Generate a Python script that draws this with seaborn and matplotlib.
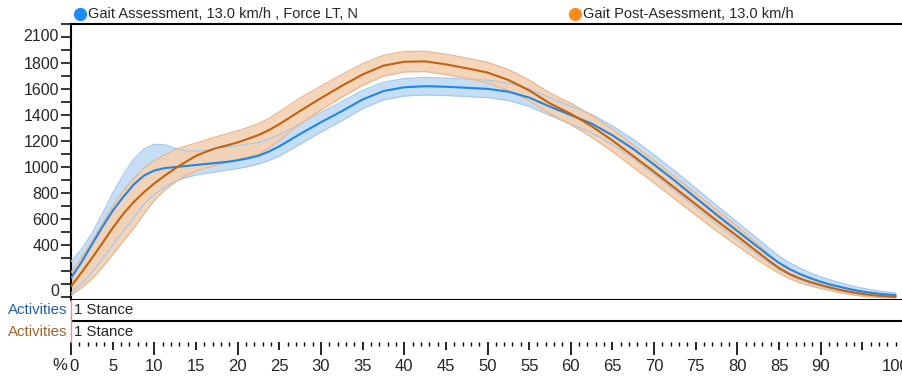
import matplotlib
matplotlib.use("Agg")
import matplotlib.pyplot as plt
import pandas as pd
import seaborn as sns
from matplotlib.lines import Line2D
from matplotlib.ticker import FixedLocator, MultipleLocator
from matplotlib.transforms import ScaledTranslation

# % of stance phase (denser where the curves bend)
stance_pct = [0, 1.25, 2.5, 3.75, 5, 6.25, 7.5, 8.75, 10, 11.25, 12.5, 13.75, 15, 16.25, 17.5,
              18.75, 20, 21.25, 22.5, 23.75, 25,
              27.5, 30, 32.5, 35, 37.5, 40, 42.5, 45, 47.5, 50, 52.5, 55, 57.5, 60, 62.5, 65,
              67.5, 70, 72.5, 75, 77.5,
              80, 81.25, 82.5, 83.75, 85, 86.25, 87.5, 88.75, 90, 91.25, 92.5, 93.75, 95,
              96.25, 97.5, 99]

# Gait Assessment: mean force (N) and band limits
assess_mean = [150, 270, 405, 540, 665, 770, 865, 935, 975, 993, 1001, 1009, 1017, 1025, 1033,
               1041, 1053, 1068, 1088, 1120, 1160,
               1255, 1345, 1430, 1520, 1585, 1614, 1622, 1618, 1610, 1602, 1580, 1535, 1465,
               1400, 1335, 1245, 1140, 1020, 895, 765, 635,
               510, 447, 385, 323, 265, 218, 180, 148, 120, 97, 78, 60, 45, 34, 25, 18]
assess_high = [275, 370, 490, 640, 800, 940, 1060, 1140, 1176, 1172, 1145, 1125, 1122, 1132, 1145,
               1155, 1165, 1177, 1190, 1218, 1250,
               1333, 1420, 1503, 1590, 1653, 1681, 1689, 1685, 1677, 1669, 1647, 1603, 1533,
               1470, 1405, 1317, 1214, 1095, 970, 839, 707,
               578, 512, 447, 380, 317, 266, 225, 189, 158, 132, 110, 89, 71, 57, 45, 34]
assess_low = [33, 105, 190, 290, 400, 505, 610, 715, 790, 850, 890, 920, 940, 953, 965,
              978, 990, 1005, 1025, 1052, 1085,
              1177, 1270, 1357, 1450, 1517, 1547, 1555, 1551, 1543, 1535, 1513, 1467, 1397,
              1330, 1265, 1173, 1066, 945, 820, 691, 563,
              442, 382, 323, 266, 213, 170, 135, 107, 82, 62, 46, 31, 19, 11, 5, 2]

# Gait Post-Assessment: mean force (N) and band limits
post_mean = [85, 190, 300, 415, 533, 640, 730, 808, 875, 935, 990, 1040, 1087, 1120, 1148,
             1168, 1190, 1218, 1247, 1285, 1330,
             1432, 1530, 1625, 1712, 1780, 1810, 1813, 1790, 1760, 1727, 1670, 1590, 1490,
             1410, 1315, 1205, 1085, 965, 840, 715, 590,
             470, 407, 345, 283, 225, 180, 145, 118, 95, 74, 55, 40, 27, 17, 10, 5]
post_high = [190, 305, 430, 565, 700, 815, 910, 995, 1050, 1095, 1135, 1162, 1185, 1210, 1235,
             1258, 1280, 1305, 1335, 1375, 1425,
             1532, 1622, 1712, 1795, 1860, 1888, 1891, 1868, 1838, 1806, 1750, 1670, 1570,
             1492, 1399, 1290, 1171, 1051, 925, 798, 670,
             545, 475, 407, 333, 265, 216, 177, 147, 122, 98, 77, 60, 45, 32, 23, 15]
post_low = [15, 75, 140, 230, 330, 430, 530, 640, 745, 825, 885, 935, 970, 995, 1015,
            1038, 1060, 1080, 1100, 1145, 1205,
            1332, 1438, 1538, 1629, 1700, 1732, 1735, 1712, 1682, 1648, 1590, 1510, 1410,
            1328, 1231, 1120, 999, 879, 755, 632, 510,
            395, 339, 283, 233, 185, 144, 113, 89, 68, 50, 33, 20, 9, 2, -3, -5]

series_names = ["Gait Assessment, 13.0 km/h , Force LT, N", "Gait Post-Asessment, 13.0 km/h"]
activity_label = "Activities"
activity_name = "1 Stance"

y_tick_values = [0, 400, 600, 800, 1000, 1200, 1400, 1600, 1800, 2100]
x_tick_values = [0, 5, 10, 15, 20, 25, 30, 35, 40, 45, 50, 55, 60, 65, 70, 75, 80, 85, 90, 95, 100]
x_tick_labels = ["0", "5", "10", "15", "20", "25", "30", "35", "40", "45", "50", "55", "60",
                 "65", "70", "75", "80", "85", "90", "", "100"]

sns.set_style("white")
plt.rcParams["font.family"] = ["Liberation Sans", "DejaVu Sans"]

BLUE = "#1f86e8"
BLUE_FILL = "#c6def5"
BLUE_EDGE = "#a9c9ec"
ORANGE = "#c2620c"
ORANGE_FILL = "#f4d2b4"
ORANGE_EDGE = "#e8b88e"

W, H = 902, 377
fig = plt.figure(figsize=(W / 100, H / 100), dpi=100)
fig.patch.set_facecolor("white")


def fx(px):
    return px / W


def fy(py):
    return 1 - py / H


ax = fig.add_axes([fx(71), fy(300), fx(904) - fx(71), fy(24) - fy(300)])
act = fig.add_axes([fx(71), fy(342), fx(904) - fx(71), fy(300) - fy(342)], sharex=ax)

n = len(stance_pct)
df = pd.DataFrame({
    "pct": stance_pct * 2,
    "force": assess_mean + post_mean,
    "series": [series_names[0]] * n + [series_names[1]] * n,
})

# shaded bands with their thin outlines
ax.fill_between(stance_pct, assess_low, assess_high, color=BLUE_FILL, lw=0, zorder=1)
ax.fill_between(stance_pct, post_low, post_high, color=ORANGE_FILL, alpha=0.92, lw=0, zorder=2)
for vals in (assess_low, assess_high):
    ax.plot(stance_pct, vals, color=BLUE_EDGE, lw=0.9, zorder=3)
for vals in (post_low, post_high):
    ax.plot(stance_pct, vals, color=ORANGE_EDGE, lw=0.9, zorder=3)

# mean curves
sns.lineplot(data=df, x="pct", y="force", hue="series", palette=[BLUE, ORANGE],
             linewidth=1.5, legend=False, ax=ax, zorder=4)

ax.set_xlim(0, 100)
ax.set_ylim(-20, 2100)
ax.set_xlabel("")
ax.set_ylabel("")
ax.spines["right"].set_visible(False)
for s in ("left", "top", "bottom"):
    ax.spines[s].set_visible(True)
    ax.spines[s].set_color("black")
    ax.spines[s].set_linewidth(1.5)
ax.tick_params(axis="x", bottom=False, labelbottom=False)
ax.yaxis.set_major_locator(FixedLocator(y_tick_values))
ax.set_yticklabels([str(v) for v in y_tick_values])
ax.yaxis.set_minor_locator(MultipleLocator(100))
ax.tick_params(axis="y", which="both", direction="out", length=7.5, width=1.1,
               color="black", left=True, labelsize=11.5, pad=1.2)
ytl = ax.get_yticklabels()
ytl[-1].set_transform(ytl[-1].get_transform() + ScaledTranslation(0, -0.11, fig.dpi_scale_trans))
ytl[0].set_transform(ytl[0].get_transform() + ScaledTranslation(0, 0.07, fig.dpi_scale_trans))

# activity rows
act.set_ylim(0, 2)
act.set_yticks([])
for s in ("top", "right", "bottom"):
    act.spines[s].set_visible(False)
act.spines["left"].set_visible(True)
act.spines["left"].set_color("#f08c8c")
act.spines["left"].set_linewidth(1.0)
act.axhline(1, color="black", lw=1.5)
act.text(0.4, 1.5, activity_name, fontsize=10.8, va="center", ha="left")
act.text(0.4, 0.5, activity_name, fontsize=10.8, va="center", ha="left")
act.text(-0.45, 1.5, activity_label, fontsize=10.8, va="center", ha="right", color="#2360a3")
act.text(-0.45, 0.5, activity_label, fontsize=10.8, va="center", ha="right", color="#a3622a")

act.xaxis.set_major_locator(FixedLocator(x_tick_values))
act.set_xticklabels(x_tick_labels)
act.xaxis.set_minor_locator(MultipleLocator(1))
act.tick_params(axis="x", which="major", direction="out", length=9.5, width=1.2,
                color="black", bottom=True, labelsize=12, pad=2.5)
act.tick_params(axis="x", which="minor", direction="out", length=3, width=1.0,
                color="black", bottom=True)
for v, tk in zip(x_tick_values, act.xaxis.get_major_ticks()):
    if v % 10:
        tk.tick1line.set_markersize(5.8)
xtl = act.get_xticklabels()
xtl[0].set_transform(xtl[0].get_transform() + ScaledTranslation(0.03, 0, fig.dpi_scale_trans))
xtl[-1].set_transform(xtl[-1].get_transform() + ScaledTranslation(-0.08, 0, fig.dpi_scale_trans))
fig.text(fx(67), fy(365), "%", fontsize=12, ha="right", va="center")

# legend
for px, color, name in ((80, "#1a8cff", series_names[0]), (575, "#ff8a1c", series_names[1])):
    fig.add_artist(Line2D([fx(px)], [fy(14)], transform=fig.transFigure, marker="o",
                          markersize=8.5, color=color, linestyle="none"))
    fig.text(fx(px + 8), fy(14), name, fontsize=10.5, va="center", ha="left")

fig.savefig("out.png", dpi=100, facecolor="white")
